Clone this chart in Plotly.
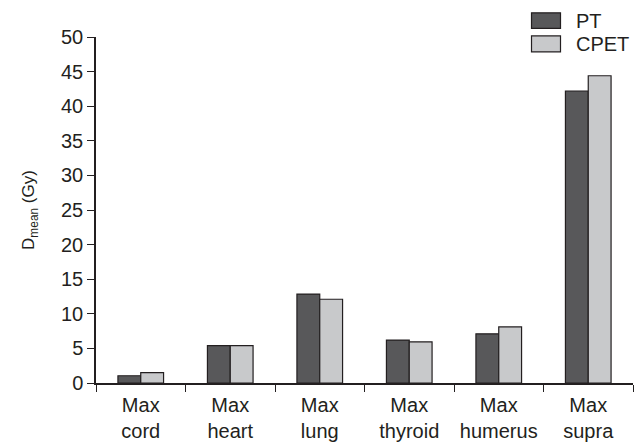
import plotly.graph_objects as go

# Mean dose per structure for the two plans
categories = ["Max<br>cord", "Max<br>heart", "Max<br>lung", "Max<br>thyroid", "Max<br>humerus", "Max<br>supra"]
series_names = ["PT", "CPET"]
pt_values = [1.05, 5.4, 12.85, 6.2, 7.1, 42.2]
cpet_values = [1.5, 5.4, 12.1, 5.95, 8.1, 44.4]
y_ticks = [0, 5, 10, 15, 20, 25, 30, 35, 40, 45, 50]

ink = "#231f20"
fills = ["#58585a", "#c8c9cb"]
family = "Liberation Sans, Arial, sans-serif"
font = dict(family=family, size=20, color=ink)

fig = go.Figure()
for name, vals, fill in zip(series_names, [pt_values, cpet_values], fills):
    fig.add_trace(go.Bar(
        x=categories, y=vals, name=name,
        marker=dict(color=fill, line=dict(color=ink, width=1.2)),
        showlegend=False,
    ))

# Legend drawn as boxed swatches with labels at the top right
legend_rows = [(1.070, 1.025), (1.003, 0.957)]
for (y1, y0), name, fill in zip(legend_rows, series_names, fills):
    fig.add_shape(type="rect", xref="paper", yref="paper",
                  x0=0.811, x1=0.865, y0=y0, y1=y1,
                  fillcolor=fill, line=dict(color=ink, width=1.2))
    fig.add_annotation(xref="paper", yref="paper", x=0.890, y=(y0 + y1) / 2,
                       text=name, showarrow=False, xanchor="left", yanchor="middle",
                       font=dict(family=family, size=20, color=ink))

fig.update_layout(
    width=642, height=442,
    margin=dict(l=96, r=9, t=37, b=59),
    paper_bgcolor="white", plot_bgcolor="white",
    barmode="group", bargap=0.49, bargroupgap=0,
    font=font,
    xaxis=dict(
        showline=True, linecolor=ink, linewidth=1.5,
        ticks="outside", tickson="boundaries", ticklen=7, tickcolor=ink, tickwidth=1.2,
        showgrid=False, tickfont=font, automargin=False, ticklabelstandoff=3,
    ),
    yaxis=dict(
        range=[0, 50], tickvals=y_ticks,
        showline=True, linecolor=ink, linewidth=1.5,
        ticks="outside", ticklen=7, tickcolor=ink, tickwidth=1.2,
        showgrid=False, zeroline=False, tickfont=font, automargin=False,
        title=dict(text="D<sub>mean</sub> (Gy)", font=dict(family=family, size=17, color=ink), standoff=22),
    ),
)

fig.write_html("out.html")
